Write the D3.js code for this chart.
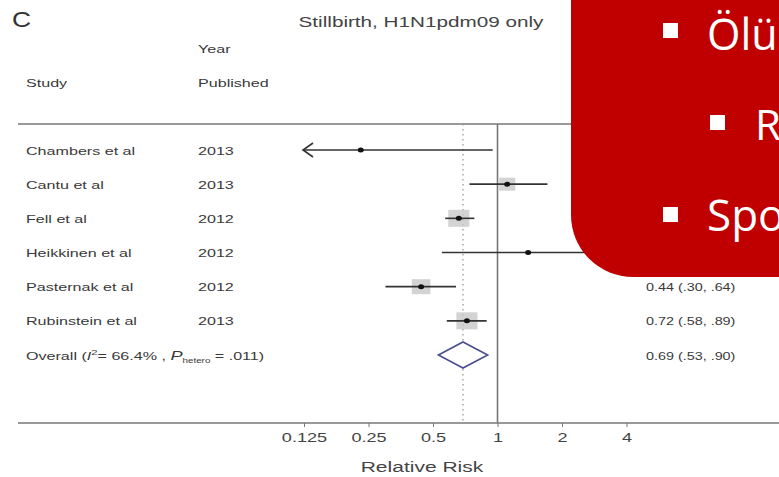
<!DOCTYPE html>
<meta charset="utf-8">
<style type="text/css">
body { margin: 0; background: #fff; }
svg { display: block; font-family: "Liberation Sans", Arial, sans-serif; }
.lbl { fill: #3a3a3a; font-size: 11.5px; }
.ci { stroke: #333; stroke-width: 1.6; }
.wbox { fill: #c8c8c8; fill-opacity: .8; }
.dot { fill: #111; }
.slide { font-family: "Open Sans", "Noto Sans", sans-serif; fill: #fff; }
</style>
<svg width="779" height="477"></svg>
<script src="https://cdnjs.cloudflare.com/ajax/libs/d3/7.8.5/d3.min.js"></script>
<script>

var svg = d3.select("svg");

// DATA
var studies = ["Chambers et al", "Cantu et al", "Fell et al", "Heikkinen et al", "Pasternak et al", "Rubinstein et al"];
var years   = ["2013", "2013", "2012", "2012", "2012", "2013"];
var rr      = [0.23, 1.11, 0.66, 1.39, 0.44, 0.72];
var lower   = [0.10, 0.74, 0.57, 0.55, 0.30, 0.58];
var upper   = [0.95, 1.71, 0.78, 3.90, 0.64, 0.89];
var weightBox = [0, 13, 17, 0, 15, 17];
// first four estimates are hidden behind the slide box in the source
var ciLabels = [null, null, null, null, "0.44 (.30, .64)", "0.72 (.58, .89)"];
var overall = {rr: 0.69, lo: 0.53, hi: 0.90, label: "0.69 (.53, .90)"};
var tickVals = [0.125, 0.25, 0.5, 1, 2, 4];
var tickText = ["0.125", "0.25", "0.5", "1", "2", "4"];
var slideBullets = ["Ölü", "R", "Spo"];

var x = d3.scaleLog().base(2).domain([0.125, 4]).range([304, 626.5]);
var rowY = d3.scalePoint().domain(d3.range(7)).range([150, 355]);

var topY = 124, axisY = 423, SX = 1.4;

// text stretched horizontally like the source picture
function stext(parent, px, py, size, sx, str, anchor) {
  return parent.append("text")
    .attr("transform", "translate(" + px + "," + py + ") scale(" + sx + ",1)")
    .attr("text-anchor", anchor || "start")
    .style("font-size", size + "px")
    .text(str);
}

// header
stext(svg, 12, 27, 22, 1.2, "C").attr("fill", "#333");
stext(svg, 421, 27, 15, 1.38, "Stillbirth, H1N1pdm09 only", "middle").attr("fill", "#444");
stext(svg, 198, 53, 11.5, SX, "Year").attr("class", "lbl");
stext(svg, 198, 87, 11.5, SX, "Published").attr("class", "lbl");
stext(svg, 26, 87, 11.5, SX, "Study").attr("class", "lbl");

// frame lines
svg.append("line").attr("x1", 18).attr("x2", 779).attr("y1", topY).attr("y2", topY)
   .attr("stroke", "#777").attr("stroke-width", 1.5);
svg.append("line").attr("x1", x(1)).attr("x2", x(1)).attr("y1", topY).attr("y2", axisY)
   .attr("stroke", "#777").attr("stroke-width", 1.6);
svg.append("line").attr("x1", x(overall.rr)).attr("x2", x(overall.rr)).attr("y1", topY).attr("y2", axisY)
   .attr("stroke", "#999").attr("stroke-width", 1.3).attr("stroke-dasharray", "1.5,3.5");

// axis
svg.append("line").attr("x1", 18).attr("x2", 779).attr("y1", axisY).attr("y2", axisY)
   .attr("stroke", "#777").attr("stroke-width", 1.6);
var ax = svg.append("g").attr("transform", "translate(0," + axisY + ")")
   .call(d3.axisBottom(x).tickValues(tickVals).tickFormat(function(d, i){ return tickText[i]; })
   .tickSize(4).tickPadding(6));
ax.select(".domain").remove();
ax.selectAll("line").attr("stroke", "#777");
ax.selectAll("text").attr("fill", "#444").style("font-size", "12.5px")
   .attr("transform", "scale(1.45,1)");
stext(svg, 422, 472, 14.5, 1.45, "Relative Risk", "middle").attr("fill", "#444");

// study rows
var rows = svg.selectAll(".row").data(studies).enter().append("g").attr("class", "row")
   .attr("transform", function(d, i){ return "translate(0," + rowY(i) + ")"; });

rows.each(function(d, i) {
  var g = d3.select(this);
  stext(g, 26, 4.5, 11.5, SX, d).attr("class", "lbl");
  stext(g, 198, 4.5, 11.5, SX, years[i]).attr("class", "lbl");
  if (ciLabels[i]) stext(g, 646, 4.5, 11.5, 1.25, ciLabels[i]).attr("class", "lbl");
});

rows.append("rect").attr("class", "wbox")
   .attr("x", function(d, i){ return x(rr[i]) - weightBox[i] * 0.62; })
   .attr("y", function(d, i){ return -weightBox[i] / 2; })
   .attr("width", function(d, i){ return weightBox[i] * 1.24; })
   .attr("height", function(d, i){ return weightBox[i]; });

rows.append("line").attr("class", "ci")
   .attr("x1", function(d, i){ return x(Math.max(lower[i], 0.125)); })
   .attr("x2", function(d, i){ return x(Math.min(upper[i], 4)); })
   .attr("y1", 0).attr("y2", 0);

// arrow for clipped lower limits
rows.filter(function(d, i){ return lower[i] < 0.125; }).append("path")
   .attr("d", "M" + (x(0.125) + 9) + ",-7 L" + (x(0.125) - 1) + ",0 L" + (x(0.125) + 9) + ",7")
   .attr("fill", "none").attr("stroke", "#333").attr("stroke-width", 1.6);

rows.append("ellipse").attr("class", "dot")
   .attr("cx", function(d, i){ return x(rr[i]); }).attr("cy", 0).attr("rx", 3).attr("ry", 2.5);

// overall
var oy = rowY(6);
var ov = stext(svg, 26, oy + 4.5, 11.5, SX, "").attr("class", "lbl");
ov.append("tspan").text("Overall  (");
ov.append("tspan").style("font-style", "italic").text("I");
ov.append("tspan").attr("dy", -5).style("font-size", "8px").text("2");
ov.append("tspan").attr("dy", 5).text("= 66.4% , ");
ov.append("tspan").style("font-style", "italic").style("font-size", "13px").text("P");
ov.append("tspan").attr("dy", 3).style("font-size", "7px").text("hetero");
ov.append("tspan").attr("dy", -3).text(" = .011)");
stext(svg, 646, oy + 4.5, 11.5, 1.25, overall.label).attr("class", "lbl");

svg.append("path")
   .attr("d", "M" + x(overall.lo) + "," + oy + " L" + x(overall.rr) + "," + (oy - 13) +
              " L" + x(overall.hi) + "," + oy + " L" + x(overall.rr) + "," + (oy + 13) + " Z")
   .attr("fill", "#fff").attr("stroke", "#4a4f8c").attr("stroke-width", 1.6);

// slide overlay
svg.append("path")
   .attr("d", "M571,0 H779 V277 H633 A62,62 0 0 1 571,215 Z")
   .attr("fill", "#c00000");
var bulletPos = [
  {x: 663, y: 23, tx: 707, ty: 50, fs: 43},
  {x: 710, y: 115, tx: 755, ty: 140, fs: 42},
  {x: 663, y: 207, tx: 707, ty: 231, fs: 44}
];
var sb = svg.selectAll(".bul").data(slideBullets).enter().append("g").attr("class", "bul");
sb.append("rect").attr("x", function(d, i){ return bulletPos[i].x; }).attr("y", function(d, i){ return bulletPos[i].y; })
  .attr("width", 15).attr("height", 15).attr("fill", "#fff");
sb.append("text").attr("class", "slide")
  .attr("x", function(d, i){ return bulletPos[i].tx; }).attr("y", function(d, i){ return bulletPos[i].ty; })
  .style("font-size", function(d, i){ return bulletPos[i].fs + "px"; }).text(function(d){ return d; });

</script>
